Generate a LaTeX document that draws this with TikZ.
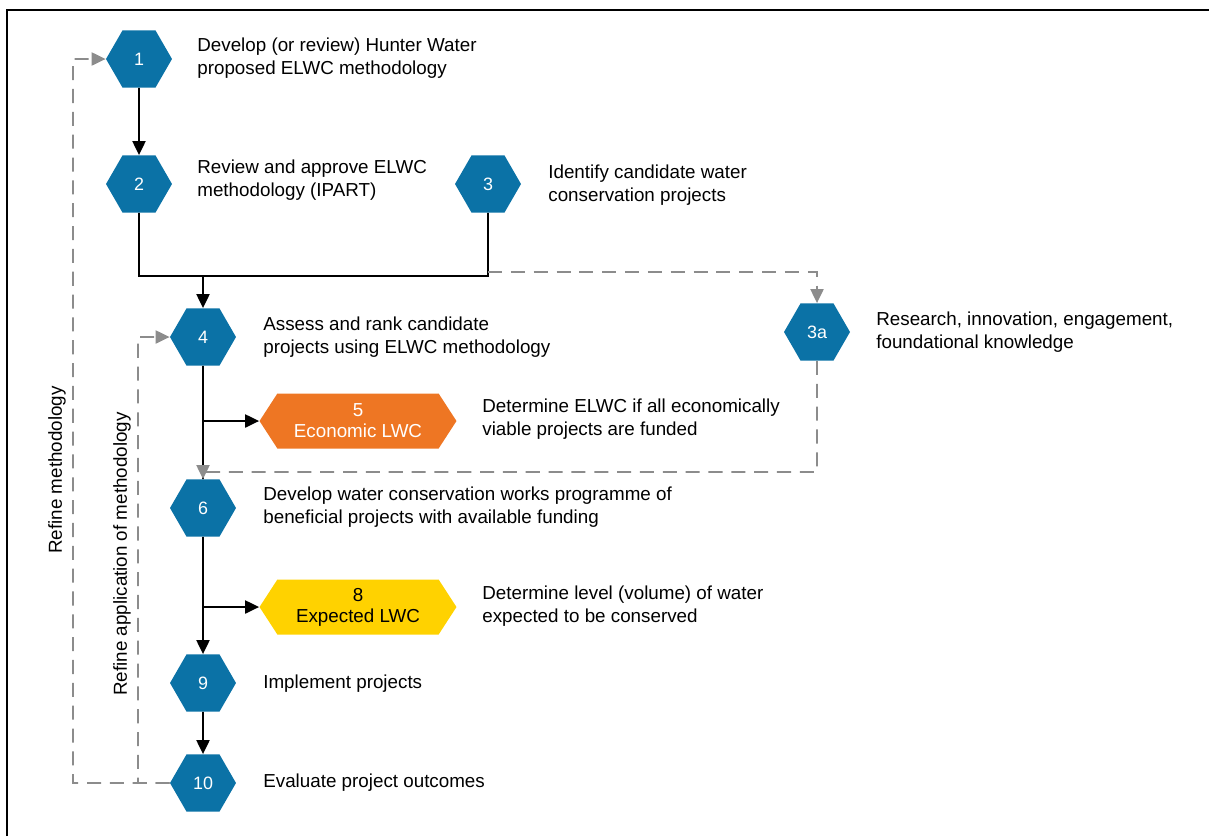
\documentclass[tikz,border=0pt]{standalone}
\usepackage{fontspec}
\setmainfont{Liberation Sans}
\usetikzlibrary{shapes.geometric,shapes.symbols,arrows.meta}
\definecolor{hwblue}{HTML}{0B72A6}
\definecolor{hworange}{HTML}{EE7623}
\definecolor{hwyellow}{HTML}{FFD200}
\definecolor{hwgrey}{HTML}{8C8C8C}
\tikzset{
  hexa/.style={regular polygon,regular polygon sides=6,minimum size=1.32cm,inner sep=0pt,
    fill=hwblue,text=white,font=\fontsize{10.2}{12}\selectfont},
  lwc/.style={signal,signal to=east and west,signal pointer angle=114,minimum width=3.94cm,
    minimum height=1.1cm,inner sep=0pt,align=center,font=\fontsize{10.7}{12}\selectfont},
  desc/.style={anchor=west,align=left,inner sep=0pt,font=\fontsize{10.7}{13}\selectfont},
  sidelabel/.style={rotate=90,inner sep=0pt,font=\fontsize{10.7}{13}\selectfont},
  trunk/.style={line width=1pt},
  flow/.style={trunk,-{Triangle[length=8pt,width=7.5pt]}},
  refine/.style={hwgrey,line width=1pt,dash pattern=on 8pt off 5pt,-{Triangle[length=8pt,width=7.5pt]}},
}
\begin{document}
\begin{tikzpicture}[x=0.02cm,y=-0.02cm]
        \useasboundingbox (0,0) rectangle (1209,836);
        %cornice
        \draw[line width=1.1pt] (7,836) -- (7,10) -- (1209,10);
        %passi
        \node[hexa] (s1) at (139,59) {1};
        \node[hexa] (s2) at (139,184) {2};
        \node[hexa] (s3) at (488,184) {3};
        \node[hexa] (s3a) at (817,332) {3a};
        \node[hexa] (s4) at (203,337) {4};
        \node[lwc,fill=hworange,text=white] (e5) at (358,421) {5\\Economic LWC};
        \node[hexa] (s6) at (203,508) {6};
        \node[lwc,fill=hwyellow,text=black] (e8) at (358,607) {8\\Expected LWC};
        \node[hexa] (s9) at (203,683) {9};
        \node[hexa] (s10) at (203,783) {10};
        %descrizioni
        \node[desc] (d1) at (197,58) {Develop (or review) Hunter Water\\proposed ELWC methodology};
        \node[desc] (d2) at (197,180) {Review and approve ELWC\\methodology (IPART)};
        \node[desc] (d3) at (548,185) {Identify candidate water\\conservation projects};
        \node[desc] (d3a) at (876,332) {Research, innovation, engagement,\\foundational knowledge};
        \node[desc] (d4) at (263,337) {Assess and rank candidate\\projects using ELWC methodology};
        \node[desc] (d5) at (482,419) {Determine ELWC if all economically\\viable projects are funded};
        \node[desc] (d6) at (263,507) {Develop water conservation works programme of\\beneficial projects with available funding};
        \node[desc] (d8) at (482,606) {Determine level (volume) of water\\expected to be conserved};
        \node[desc] (d9) at (263,684) {Implement projects};
        \node[desc] (d10) at (263,783) {Evaluate project outcomes};
        \node[sidelabel] (lm) at (57,470) {Refine methodology};
        \node[sidelabel] (la) at (122,554) {Refine application of methodology};
        %collegamenti principali
        \coordinate (j2) at (203,276);
        \coordinate (j3) at (488,276);
        \draw[flow] (s1) -- (s2);
        \draw[trunk] (s2) |- (j3) -- (s3);
        \draw[flow] (j2) -- (s4);
        \draw[trunk] (s4) -- (s6);
        \draw[flow] (s4) |- (e5);
        \draw[flow] (s6) -- (s9);
        \draw[flow] (s6) |- (e8);
        \draw[flow] (s9) -- (s10);
        %ricerca
        \coordinate (r1) at (488,272);
        \coordinate (r2) at (203,472);
        \draw[refine] (r1) -| (s3a);
        \draw[refine] (s3a) |- (r2) -- (s6);
        %anelli di revisione
        \coordinate (k1) at (73,59);
        \coordinate (k2) at (138,337);
        \draw[refine] (s10) -| (k1) -- (s1);
        \draw[refine] (s10) -| (k2) -- (s4);
    \end{tikzpicture}
\end{document}
